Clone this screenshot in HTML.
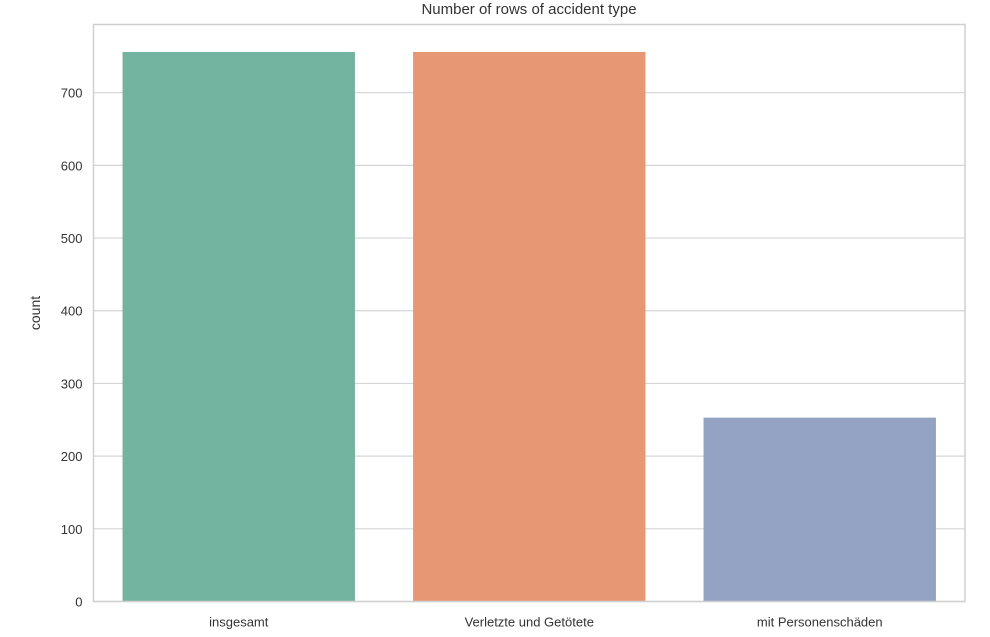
<!DOCTYPE html>
<html><head><meta charset="utf-8"><style>
html,body{margin:0;padding:0;background:#fff;}
svg text{font-family:"Liberation Sans","DejaVu Sans",sans-serif;fill:#333;}
</style></head><body>
<svg id="chart" width="990" height="632" xmlns="http://www.w3.org/2000/svg">
<text x="529" y="14" text-anchor="middle" font-size="15">Number of rows of accident type</text>
<g id="grid"></g><g id="bars"></g><g id="axes"></g>
</svg>
<script>
const categories = ["insgesamt", "Verletzte und Getötete", "mit Personenschäden"];
const counts = [756, 756, 253];
const yTicks = [0, 100, 200, 300, 400, 500, 600, 700];
const colors = ["#72b49f", "#e89775", "#94a3c3"];

const L = 93.5, R = 965, T = 24.5, B = 601.5, YMAX = 793.8;
const ns = "http://www.w3.org/2000/svg";
const y = v => B - v / YMAX * (B - T);
const bw = (R - L) / categories.length;
const x = i => L + bw * i;
function mk(tag, attrs, parent, txt) {
  const e = document.createElementNS(ns, tag);
  for (const k in attrs) e.setAttribute(k, attrs[k]);
  if (txt !== undefined) e.textContent = txt;
  document.getElementById(parent).appendChild(e);
  return e;
}
yTicks.forEach(t => {
  const g = mk("line", {x1: L, x2: R, y1: y(t), y2: y(t), stroke: "#d5d5d5", "stroke-width": 1.2}, "grid");
  
  
  const lb = mk("text", {x: L - 11, y: y(t) + 5, "text-anchor": "end", "font-size": 13}, "axes", String(t));
  
  
});
categories.forEach((c, i) => {
  const r = mk("rect", {x: x(i) + bw * 0.1, y: y(counts[i]), width: bw * 0.8, height: B - y(counts[i]), fill: colors[i]}, "bars");
  
  
  const lb = mk("text", {x: x(i) + bw / 2, y: B + 25, "text-anchor": "middle", "font-size": 13}, "axes", c);
  
  
});
const fr = mk("rect", {x: L, y: T, width: R - L, height: B - T, fill: "none", stroke: "#d0d0d0", "stroke-width": 1.5}, "axes");


const yl = mk("text", {x: 40, y: (T + B) / 2, "text-anchor": "middle", "font-size": 14, transform: "rotate(-90 40 " + (T + B) / 2 + ")"}, "axes", "count");


</script>
</body></html>
